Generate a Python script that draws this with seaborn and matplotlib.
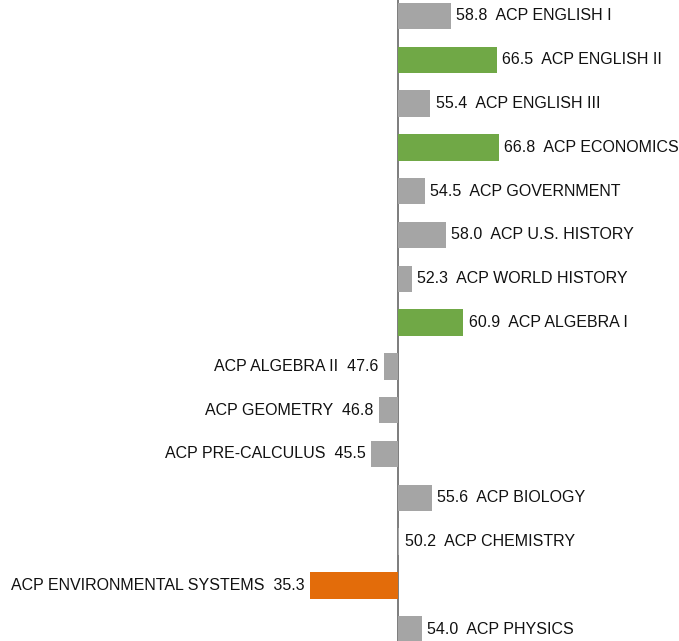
import pandas as pd
import seaborn as sns
import matplotlib.pyplot as plt

# values, baseline at 50
subjects = ['ACP ENGLISH I', 'ACP ENGLISH II', 'ACP ENGLISH III', 'ACP ECONOMICS',
            'ACP GOVERNMENT', 'ACP U.S. HISTORY', 'ACP WORLD HISTORY', 'ACP ALGEBRA I',
            'ACP ALGEBRA II', 'ACP GEOMETRY', 'ACP PRE-CALCULUS', 'ACP BIOLOGY',
            'ACP CHEMISTRY', 'ACP ENVIRONMENTAL SYSTEMS', 'ACP PHYSICS']
scores = [58.8, 66.5, 55.4, 66.8, 54.5, 58.0, 52.3, 60.9,
          47.6, 46.8, 45.5, 55.6, 50.2, 35.3, 54.0]
groups = ['mid', 'high', 'mid', 'high', 'mid', 'mid', 'mid', 'high',
          'mid', 'mid', 'mid', 'mid', 'mid', 'low', 'mid']
baseline = 50

colours = {'mid': '#A5A5A5', 'high': '#70A846', 'low': '#E36C0A'}

df = pd.DataFrame({'subject': subjects, 'score': scores, 'group': groups})
df['diff'] = df['score'] - baseline

sns.set_style('white')
plt.rcParams['font.family'] = ['Liberation Sans', 'DejaVu Sans']

fig = plt.figure(figsize=(6.79, 6.41), dpi=100)
ax = fig.add_axes([0, 0, 1, 1])

ax.axvline(0, color='#666666', lw=1.2, zorder=0)
sns.barplot(data=df, x='diff', y='subject', hue='group', palette=colours,
            orient='h', width=0.6, dodge=False, legend=False, saturation=1,
            linewidth=0, ax=ax, zorder=2)

for i, row in df.iterrows():
    if row['diff'] >= 0:
        ax.text(row['diff'] + 0.9, i, f"{row['score']:.1f}  {row['subject']}",
                va='center', ha='left', fontsize=11.5, color='#111111')
    else:
        ax.text(row['diff'] - 0.9, i, f"{row['subject']}  {row['score']:.1f}",
                va='center', ha='right', fontsize=11.5, color='#111111')

ax.set_xlim(-66.33, 46.83)
ax.set_ylim(14.27, -0.365)
ax.set_axis_off()

fig.savefig('out.png', dpi=100)
